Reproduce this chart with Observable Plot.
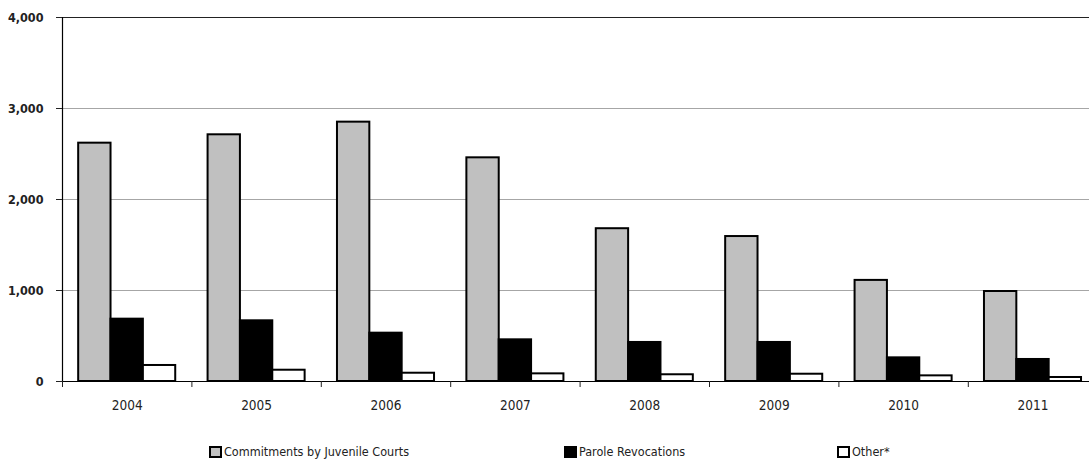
<!DOCTYPE html>
<html><head><meta charset="utf-8">
<script src="https://cdn.jsdelivr.net/npm/d3@7"></script>
<script src="https://cdn.jsdelivr.net/npm/@observablehq/plot@0.6"></script>
<style>
html,body{margin:0;padding:0;background:#fff;overflow:hidden;}
#chart{position:relative;width:1089px;height:459px;font-family:"Liberation Sans Narrow","DejaVu Sans Condensed","Arial Narrow",sans-serif;}
#chart svg{display:block;}
.legend{position:absolute;top:425px;left:0;width:1089px;height:34px;}
.item{position:absolute;top:20px;display:flex;align-items:center;font-size:12.5px;line-height:14px;color:#222;white-space:nowrap;}
.sw{box-sizing:border-box;width:13px;height:12px;border:2px solid #000;margin-right:2px;}
</style></head><body>
<div id="chart"></div>
<script>
const years = ["2004","2005","2006","2007","2008","2009","2010","2011"];
const series = ["Commitments by Juvenile Courts","Parole Revocations","Other*"];
const commitments = [2619,2711,2850,2458,1679,1593,1111,989];
const parole = [685,667,531,458,429,429,260,242];
const other = [176,124,91,84,74,80,62,44];
const seriesColors = ["#c0c0c0","#000000","#ffffff"];
const yTicks = [0,1000,2000,3000,4000];
const gridValues = [1000,2000,3000];

const seriesValues = [commitments, parole, other];
const rows = [];
years.forEach((yr, i) => {
  seriesValues.forEach((arr, j) => rows.push({year: yr, i, j, series: series[j], value: arr[i]}));
});

const fontFam = '"Liberation Sans Narrow","DejaVu Sans Condensed","Arial Narrow",sans-serif';
const groupPad = 0.125, barFrac = 0.25;

const plot = Plot.plot({
  width: 1089, height: 425,
  marginLeft: 62, marginRight: -8.2, marginTop: 17, marginBottom: 44,
  x: {type: "linear", domain: [0, years.length], axis: null},
  y: {domain: [0, 4000], axis: null},
  color: {domain: series, range: seriesColors},
  style: {fontFamily: fontFam, background: "white", color: "#222"},
  marks: [
    Plot.ruleY(gridValues, {stroke: "#a6a6a6", strokeWidth: 1}),
    Plot.ruleY([4000], {stroke: "#222", strokeWidth: 1}),
    Plot.rectY(rows, {
      x1: d => d.i + groupPad + barFrac * d.j,
      x2: d => d.i + groupPad + barFrac * (d.j + 1),
      y1: 0, y2: "value",
      fill: "series", stroke: "#000", strokeWidth: 2
    }),
    Plot.ruleY([0], {stroke: "#000", strokeWidth: 1.2}),
    Plot.ruleX([0], {stroke: "#000", strokeWidth: 1.2}),
    Plot.axisY({ticks: yTicks, tickSize: 6, tickPadding: 13, tickFormat: d3.format(","), label: null,
      fontSize: 12.5, fontWeight: "bold", fill: "#222"}),
    Plot.axisX({ticks: d3.range(years.length + 1), tickSize: 6, tickFormat: () => "", label: null}),
    Plot.axisX({ticks: years.map((_, i) => i + 0.5), tickSize: 0, tickPadding: 19, label: null,
      tickFormat: v => years[Math.floor(v)], fontSize: 13.5, fill: "#222"})
  ]
});
const chart = document.getElementById("chart");
chart.appendChild(plot);

const legend = document.createElement("div");
legend.className = "legend";
const legendLeft = [209, 564, 837];
series.forEach((s, j) => {
  const it = document.createElement("div");
  it.className = "item";
  it.style.left = legendLeft[j] + "px";
  const sw = document.createElement("span");
  sw.className = "sw";
  sw.style.background = seriesColors[j];
  const tx = document.createElement("span");
  tx.textContent = s;
  it.appendChild(sw); it.appendChild(tx);
  legend.appendChild(it);
});
chart.appendChild(legend);
</script>
</body></html>
